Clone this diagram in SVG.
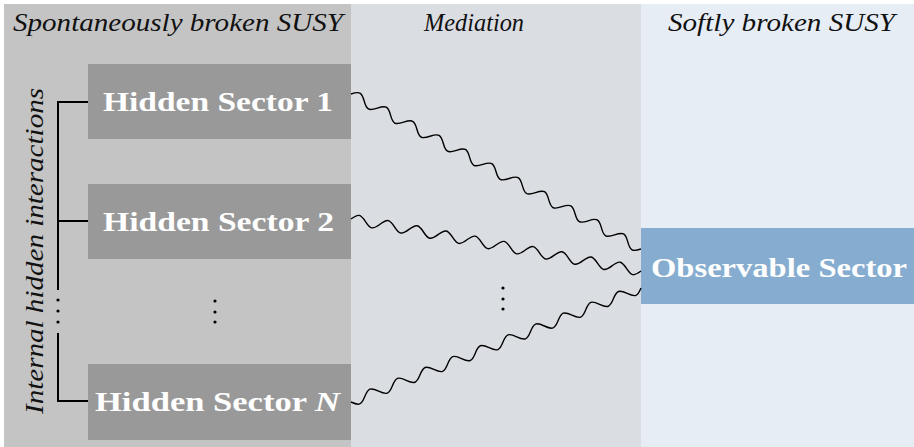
<svg xmlns="http://www.w3.org/2000/svg" width="914" height="447" viewBox="0 0 914 447">
<style>
.hdr{font-family:'Liberation Serif','DejaVu Serif','Times New Roman',serif;font-style:italic;font-size:26px;fill:#111}
.lbl{font-family:'Liberation Serif','DejaVu Serif','Times New Roman',serif;font-weight:bold;font-size:28px;fill:#ffffff}
.box{fill:#999999}
.wave{fill:none;stroke:#000;stroke-width:1.4}
.brk{fill:none;stroke:#000;stroke-width:2}
.dot{fill:#000}
</style>
<rect width="914" height="447" fill="#ffffff"/>
<g id="panels">
<rect x="4" y="4" width="347" height="443" fill="#c4c4c4"/>
<rect x="351" y="4" width="290" height="443" fill="#dadde2"/>
<rect x="641" y="4" width="273" height="443" fill="#e7edf5"/>
</g>
<g id="headers">
<text class="hdr" x="13" y="31" textLength="330" lengthAdjust="spacingAndGlyphs">Spontaneously broken SUSY</text>
<text class="hdr" x="474" y="31" text-anchor="middle" textLength="100" lengthAdjust="spacingAndGlyphs">Mediation</text>
<text class="hdr" x="668" y="31" textLength="227" lengthAdjust="spacingAndGlyphs">Softly broken SUSY</text>
</g>
<g id="internal-interactions">
<text class="hdr" transform="translate(43,251) rotate(-90)" x="0" y="0" text-anchor="middle" textLength="326" lengthAdjust="spacingAndGlyphs">Internal hidden interactions</text>
<path class="brk" d="M88,102 H58 V290 M58,221 H88 M58,333 V401 H88"/>
<circle class="dot" cx="58" cy="300" r="1.6"/>
<circle class="dot" cx="58" cy="311" r="1.6"/>
<circle class="dot" cx="58" cy="322" r="1.6"/>
</g>
<g id="hidden1">
<rect class="box" x="88" y="64" width="263" height="75"/>
<text class="lbl" x="103" y="111" textLength="230" lengthAdjust="spacingAndGlyphs">Hidden Sector 1</text>
</g>
<g id="hidden2">
<rect class="box" x="88" y="184" width="263" height="75"/>
<text class="lbl" x="103" y="231" textLength="231" lengthAdjust="spacingAndGlyphs">Hidden Sector 2</text>
</g>
<g id="hidden-dots">
<circle class="dot" cx="215" cy="301" r="1.6"/>
<circle class="dot" cx="215" cy="312" r="1.6"/>
<circle class="dot" cx="215" cy="322" r="1.6"/>
</g>
<g id="hiddenN">
<rect class="box" x="88" y="364" width="263" height="76"/>
<text class="lbl" x="95" y="410.5" textLength="245" lengthAdjust="spacingAndGlyphs">Hidden Sector <tspan font-style="italic">N</tspan></text>
</g>
<g id="observable">
<rect x="641" y="228" width="273" height="76" fill="#86adcf"/>
<text class="lbl" x="651" y="276.5" textLength="256" lengthAdjust="spacingAndGlyphs">Observable Sector</text>
</g>
<g id="connectors">
<path class="wave" transform="translate(351,94) rotate(28.12)" d="M0,0 c6.343,-6.667 8.602,-6.667 14.945,0 c6.343,6.667 8.602,6.667 14.945,0 c6.343,-6.667 8.602,-6.667 14.945,0 c6.343,6.667 8.602,6.667 14.945,0 c6.343,-6.667 8.602,-6.667 14.945,0 c6.343,6.667 8.602,6.667 14.945,0 c6.343,-6.667 8.602,-6.667 14.945,0 c6.343,6.667 8.602,6.667 14.945,0 c6.343,-6.667 8.602,-6.667 14.945,0 c6.343,6.667 8.602,6.667 14.945,0 c6.343,-6.667 8.602,-6.667 14.945,0 c6.343,6.667 8.602,6.667 14.945,0 c6.343,-6.667 8.602,-6.667 14.945,0 c6.343,6.667 8.602,6.667 14.945,0 c6.343,-6.667 8.602,-6.667 14.945,0 c6.343,6.667 8.602,6.667 14.945,0 c6.343,-6.667 8.602,-6.667 14.945,0 c6.343,6.667 8.602,6.667 14.945,0 c6.343,-6.667 8.602,-6.667 14.945,0 c6.343,6.667 8.602,6.667 14.945,0 c6.343,-6.667 8.602,-6.667 14.945,0 c6.343,6.667 8.602,6.667 14.945,0"/>
<path class="wave" transform="translate(351,219) rotate(10.17)" d="M0,0 c6.251,-6.667 8.479,-6.667 14.73,0 c6.251,6.667 8.479,6.667 14.73,0 c6.251,-6.667 8.479,-6.667 14.73,0 c6.251,6.667 8.479,6.667 14.73,0 c6.251,-6.667 8.479,-6.667 14.73,0 c6.251,6.667 8.479,6.667 14.73,0 c6.251,-6.667 8.479,-6.667 14.73,0 c6.251,6.667 8.479,6.667 14.73,0 c6.251,-6.667 8.479,-6.667 14.73,0 c6.251,6.667 8.479,6.667 14.73,0 c6.251,-6.667 8.479,-6.667 14.73,0 c6.251,6.667 8.479,6.667 14.73,0 c6.251,-6.667 8.479,-6.667 14.73,0 c6.251,6.667 8.479,6.667 14.73,0 c6.251,-6.667 8.479,-6.667 14.73,0 c6.251,6.667 8.479,6.667 14.73,0 c6.251,-6.667 8.479,-6.667 14.73,0 c6.251,6.667 8.479,6.667 14.73,0 c6.251,-6.667 8.479,-6.667 14.73,0 c6.251,6.667 8.479,6.667 14.73,0"/>
<path class="wave" transform="translate(351,402) rotate(-21.46)" d="M0,0 c6.297,6.667 8.541,6.667 14.838,0 c6.297,-6.667 8.541,-6.667 14.838,0 c6.297,6.667 8.541,6.667 14.838,0 c6.297,-6.667 8.541,-6.667 14.838,0 c6.297,6.667 8.541,6.667 14.838,0 c6.297,-6.667 8.541,-6.667 14.838,0 c6.297,6.667 8.541,6.667 14.838,0 c6.297,-6.667 8.541,-6.667 14.838,0 c6.297,6.667 8.541,6.667 14.838,0 c6.297,-6.667 8.541,-6.667 14.838,0 c6.297,6.667 8.541,6.667 14.838,0 c6.297,-6.667 8.541,-6.667 14.838,0 c6.297,6.667 8.541,6.667 14.838,0 c6.297,-6.667 8.541,-6.667 14.838,0 c6.297,6.667 8.541,6.667 14.838,0 c6.297,-6.667 8.541,-6.667 14.838,0 c6.297,6.667 8.541,6.667 14.838,0 c6.297,-6.667 8.541,-6.667 14.838,0 c6.297,6.667 8.541,6.667 14.838,0 c6.297,-6.667 8.541,-6.667 14.838,0 c6.297,6.667 8.541,6.667 14.838,0"/>
</g>
<g id="mediation-dots">
<circle class="dot" cx="503" cy="288" r="1.6"/>
<circle class="dot" cx="503" cy="299" r="1.6"/>
<circle class="dot" cx="503" cy="309" r="1.6"/>
</g>
</svg>
